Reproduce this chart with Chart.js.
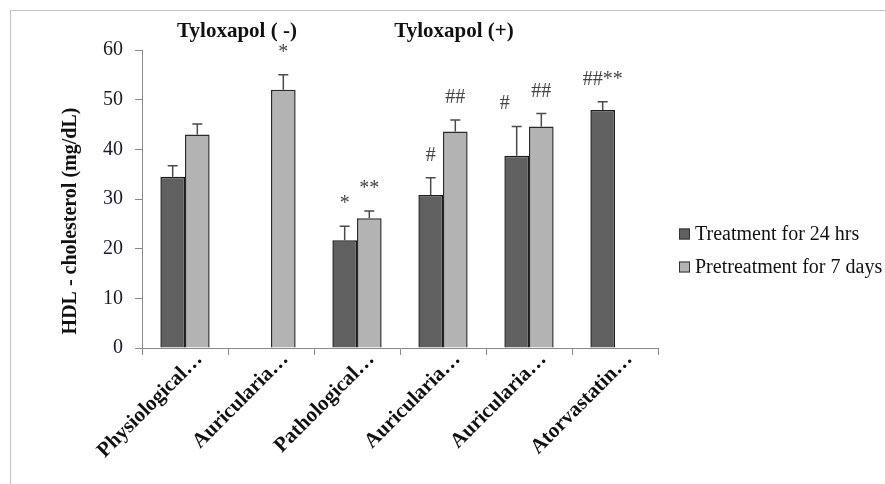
<!DOCTYPE html>
<html>
<head>
<meta charset="utf-8">
<script src="https://cdn.jsdelivr.net/npm/chart.js@4/dist/chart.umd.min.js"></script>
<style>
  html, body { margin: 0; padding: 0; background: #fff; }
  #wrap { width: 885px; height: 484px; position: relative; }
</style>
</head>
<body>
<div id="wrap"><canvas id="c" width="885" height="484"></canvas></div>
<script>
// Groups on the x axis
const categories = ['Physiological…', 'Auricularia…', 'Pathological…', 'Auricularia…', 'Auricularia…', 'Atorvastatin…'];

// HDL - cholesterol (mg/dL), mean and upper error
const treat24 = [34.5, null, 21.7, 30.8, 38.7, 47.9];
const treat24Err = [2.2, null, 2.8, 3.5, 5.9, 1.7];
const pre7 = [43.0, 52.0, 26.1, 43.6, 44.6, null];
const pre7Err = [2.1, 3.0, 1.5, 2.3, 2.6, null];

// Significance marks above each bar
const marks24 = ['', '', '*', '#', '#', '##**'];
const marks7 = ['', '*', '**', '##', '##', ''];

// Y axis range and tick step
const yMin = 0, yMax = 60, yStep = 10;

const seriesNames = ['Treatment for 24 hrs', 'Pretreatment for 7 days'];
const groupTitles = ['Tyloxapol ( -)', 'Tyloxapol (+)'];
const yTitle = 'HDL - cholesterol (mg/dL)';

const DARK = '#606060', LIGHT = '#b3b3b3';
const SERIF = '"Liberation Serif", "Times New Roman", serif';
const errs = [treat24Err, pre7Err];
const marks = [marks24, marks7];

// Light grey frame along the top and left edges
const framePlugin = {
  id: 'frame',
  beforeDraw(chart) {
    const ctx = chart.ctx;
    ctx.save();
    ctx.strokeStyle = '#c4c4c4';
    ctx.lineWidth = 1.2;
    ctx.beginPath();
    ctx.moveTo(885, 10.5);
    ctx.lineTo(10.5, 10.5);
    ctx.lineTo(10.5, 484);
    ctx.stroke();
    ctx.restore();
  }
};

// Error whiskers (upper only) and significance marks
const errorPlugin = {
  id: 'errors',
  afterDatasetsDraw(chart) {
    const ctx = chart.ctx;
    const y = chart.scales.y;
    ctx.save();
    chart.data.datasets.forEach((ds, di) => {
      const meta = chart.getDatasetMeta(di);
      meta.data.forEach((bar, i) => {
        const v = ds.data[i];
        if (v == null) return;
        const e = errs[di][i];
        const top = y.getPixelForValue(v + e);
        ctx.strokeStyle = '#4a4a4a';
        ctx.lineWidth = 1.5;
        ctx.beginPath();
        ctx.moveTo(bar.x, bar.y);
        ctx.lineTo(bar.x, top);
        ctx.moveTo(bar.x - 5, top);
        ctx.lineTo(bar.x + 5, top);
        ctx.stroke();
        const m = marks[di][i];
        if (m) {
          const nudge = (di === 0 && i === 4) ? -12 : 0;
          ctx.fillStyle = '#444';
          ctx.font = '20px ' + SERIF;
          ctx.textAlign = 'center';
          ctx.textBaseline = 'alphabetic';
          ctx.fillText(m, bar.x + nudge, top - 17);
        }
      });
    });
    ctx.restore();
  }
};

// Rotated category labels, axis title, group titles and legend
const textPlugin = {
  id: 'texts',
  afterDraw(chart) {
    const ctx = chart.ctx;
    const xs = chart.scales.x;
    const area = chart.chartArea;
    ctx.save();

    // category labels
    ctx.fillStyle = '#111';
    ctx.font = 'bold 21px ' + SERIF;
    ctx.textAlign = 'right';
    ctx.textBaseline = 'alphabetic';
    categories.forEach((lab, i) => {
      const cx = xs.getPixelForValue(i);
      ctx.save();
      ctx.translate(cx + 18, area.bottom + 12);
      ctx.rotate(-Math.PI / 4);
      ctx.fillText(lab, 0, 0);
      ctx.restore();
    });

    // y axis title
    ctx.save();
    ctx.translate(71, 221);
    ctx.rotate(-Math.PI / 2);
    ctx.font = 'bold 20px ' + SERIF;
    ctx.textAlign = 'center';
    ctx.textBaseline = 'middle';
    ctx.fillText(yTitle, 0, 0);
    ctx.restore();

    // group titles
    ctx.font = 'bold 21px ' + SERIF;
    ctx.textAlign = 'center';
    ctx.textBaseline = 'alphabetic';
    ctx.fillText(groupTitles[0], 237, 37);
    ctx.fillText(groupTitles[1], 454, 37);

    // legend
    const colors = [DARK, LIGHT];
    const rows = [234, 267];
    ctx.font = '20px ' + SERIF;
    ctx.textAlign = 'left';
    ctx.textBaseline = 'middle';
    seriesNames.forEach((name, k) => {
      ctx.fillStyle = colors[k];
      ctx.fillRect(679, rows[k] - 5.5, 11, 11);
      ctx.strokeStyle = '#333';
      ctx.lineWidth = 1;
      ctx.strokeRect(679.5, rows[k] - 5, 10, 10);
      ctx.fillStyle = '#111';
      ctx.fillText(name, 695, rows[k] + 1);
    });
    ctx.restore();
  }
};

new Chart(document.getElementById('c'), {
  type: 'bar',
  data: {
    labels: categories,
    datasets: [
      { label: seriesNames[0], data: treat24, backgroundColor: DARK, borderColor: '#1c1c1c', borderWidth: 1.5, borderSkipped: 'bottom' },
      { label: seriesNames[1], data: pre7, backgroundColor: LIGHT, borderColor: '#2a2a2a', borderWidth: 1.5, borderSkipped: 'bottom' }
    ]
  },
  options: {
    responsive: false,
    animation: false,
    devicePixelRatio: 1,
    layout: { padding: { left: 0, right: 227, top: 50, bottom: 129 } },
    datasets: { bar: { categoryPercentage: 0.573, barPercentage: 1.0 } },
    plugins: { legend: { display: false }, tooltip: { enabled: false } },
    scales: {
      x: {
        offset: true,
        grid: { display: true, drawOnChartArea: false, drawTicks: true, tickLength: 7, color: '#8a8a8a', offset: true },
        border: { display: true, color: '#8a8a8a', width: 1 },
        ticks: { display: false }
      },
      y: {
        min: yMin, max: yMax,
        afterFit(scale) { scale.width = 142; },
        grid: { display: true, drawOnChartArea: false, drawTicks: true, tickLength: 7, color: '#8a8a8a' },
        border: { display: true, color: '#8a8a8a', width: 1 },
        ticks: { stepSize: yStep, padding: 12, color: '#1a1a2a', font: { family: SERIF, size: 20 } }
      }
    }
  },
  plugins: [framePlugin, errorPlugin, textPlugin]
});
</script>
</body>
</html>
